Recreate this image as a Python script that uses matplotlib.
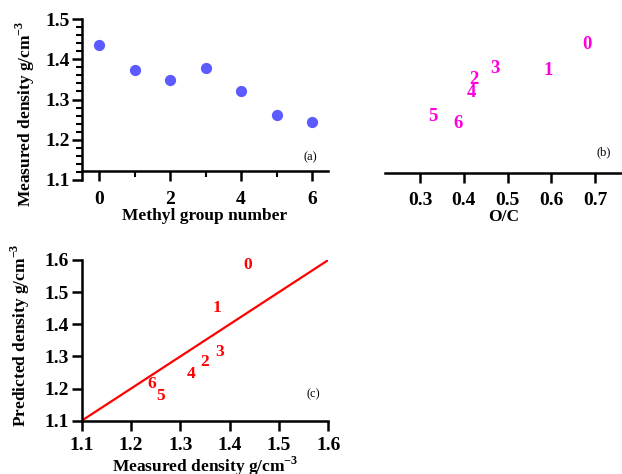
import matplotlib
matplotlib.use("Agg")
import matplotlib.pyplot as plt
from matplotlib.ticker import MultipleLocator

plt.rcParams['font.family'] = ['Liberation Serif', 'DejaVu Serif']
plt.rcParams['font.weight'] = 'bold'
plt.rcParams['mathtext.fontset'] = 'custom'
plt.rcParams['mathtext.rm'] = 'Liberation Serif:bold'
plt.rcParams['mathtext.bf'] = 'Liberation Serif:bold'

methyl = [0, 1, 2, 3, 4, 5, 6]
measured = [1.436, 1.374, 1.349, 1.378, 1.321, 1.261, 1.244]
oc_ratio = [0.682, 0.593, 0.422, 0.470, 0.418, 0.330, 0.387]
oc_density = [1.436, 1.373, 1.349, 1.378, 1.318, 1.258, 1.241]
c_measured = [1.436, 1.375, 1.349, 1.379, 1.321, 1.260, 1.243]
predicted = [1.584, 1.450, 1.283, 1.314, 1.245, 1.177, 1.214]
labels = ['0', '1', '2', '3', '4', '5', '6']
line_x = [1.1, 1.6]

W, H = 622, 474
fig = plt.figure(figsize=(W/100, H/100), dpi=100)

def rect(l, r, t, b):
    return [l/W, 1-b/H, (r-l)/W, (b-t)/H]

tick_fs = 14
lab_fs = 12.5

# Panel (a)
axa = fig.add_axes(rect(82, 328, 19, 180))
axa.scatter(methyl, measured, s=50, color='#5b5bff', zorder=3)
axa.set_xlim(-0.48, 6.45)
axa.set_ylim(1.1, 1.5)
axa.spines['top'].set_visible(False)
axa.spines['right'].set_visible(False)
axa.spines['bottom'].set_position(('data', 1.122))
for s in axa.spines.values():
    s.set_linewidth(1.8)
axa.xaxis.set_major_locator(MultipleLocator(2))
axa.xaxis.set_minor_locator(MultipleLocator(1))
axa.yaxis.set_major_locator(MultipleLocator(0.1))
axa.yaxis.set_minor_locator(MultipleLocator(0.02))
axa.tick_params(which='major', length=7, width=1.8, labelsize=tick_fs, direction='out')
axa.tick_params(which='minor', length=4, width=1.5, direction='out')
axa.tick_params(axis='x', pad=7)
axa.tick_params(axis='y', pad=2)
axa.set_xlabel('Methyl group number', fontsize=lab_fs, fontweight='bold', labelpad=0)
axa.set_ylabel(r'Measured density g/cm$^{-3}$', fontsize=lab_fs, fontweight='bold')
axa.yaxis.set_label_coords(-0.183, 0.41)
axa.text(0.927, 0.14, '(a)', transform=axa.transAxes, fontsize=9, fontweight='normal', ha='center', va='center')

# Panel (b)
axb = fig.add_axes(rect(385, 622, 19, 180))
for xv, yv, t in zip(oc_ratio, oc_density, labels):
    axb.text(xv, yv, t, color='#ff00dd', fontsize=13.5, fontweight='bold', ha='center', va='center')
axb.set_xlim(0.22, 0.761)
axb.set_ylim(1.1, 1.5)
axb.spines['top'].set_visible(False)
axb.spines['right'].set_visible(False)
axb.spines['left'].set_visible(False)
axb.spines['bottom'].set_position(('data', 1.118))
axb.spines['bottom'].set_linewidth(1.8)
axb.set_yticks([])
axb.set_xticks([0.3, 0.4, 0.5, 0.6, 0.7])
axb.tick_params(which='major', length=7, width=1.8, labelsize=tick_fs, direction='out', pad=7)
axb.set_xlabel('O/C', fontsize=lab_fs, fontweight='bold', labelpad=0)
axb.text(0.924, 0.17, '(b)', transform=axb.transAxes, fontsize=9, fontweight='normal', ha='center', va='center')

# Panel (c)
axc = fig.add_axes(rect(81.7, 328.3, 260, 420.7))
axc.plot(line_x, line_x, color='#ff0000', lw=1.6)
for xv, yv, t in zip(c_measured, predicted, labels):
    axc.text(xv, yv, t, color='#ff0000', fontsize=12.5, fontweight='bold', ha='center', va='center')
axc.set_xlim(1.1, 1.6)
axc.set_ylim(1.1, 1.6)
axc.spines['top'].set_visible(False)
axc.spines['right'].set_visible(False)
for s in axc.spines.values():
    s.set_linewidth(1.8)
axc.set_xticks([1.1, 1.2, 1.3, 1.4, 1.5, 1.6])
axc.set_yticks([1.1, 1.2, 1.3, 1.4, 1.5, 1.6])
axc.tick_params(which='major', length=7, width=1.8, labelsize=tick_fs, direction='out')
axc.tick_params(axis='x', pad=5)
axc.tick_params(axis='y', pad=2)
axc.set_xlabel(r'Measured density g/cm$^{-3}$', fontsize=lab_fs, fontweight='bold', labelpad=0)
axc.set_ylabel(r'Predicted density g/cm$^{-3}$', fontsize=lab_fs, fontweight='bold')
axc.yaxis.set_label_coords(-0.2, 0.53)
axc.text(0.938, 0.166, '(c)', transform=axc.transAxes, fontsize=9, fontweight='normal', ha='center', va='center')

fig.savefig('out.png', dpi=100)
